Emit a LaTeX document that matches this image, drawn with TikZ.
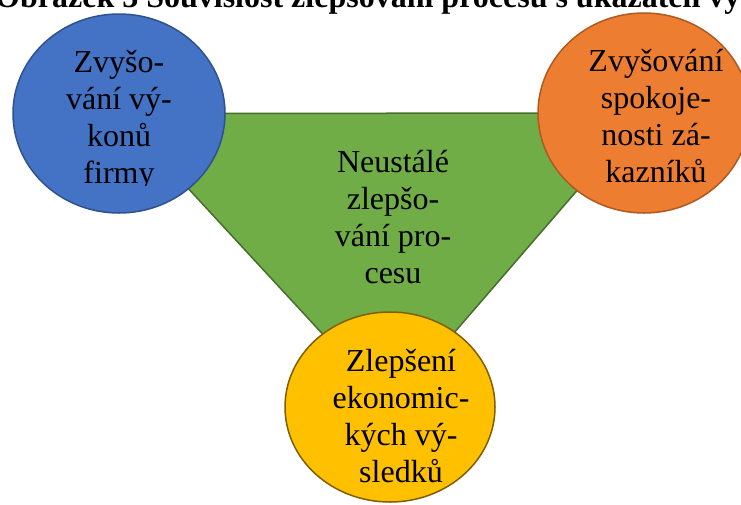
\documentclass[tikz,border=0pt]{standalone}
\usepackage{fontspec}
\setmainfont{Liberation Serif}
\usepackage{tikz}
\usepackage{xcolor}
\usetikzlibrary{shapes.geometric,backgrounds}
\definecolor{kruhmodra}{RGB}{68,114,196}
\definecolor{okrajmodra}{RGB}{47,82,143}
\definecolor{kruhoranz}{RGB}{237,125,49}
\definecolor{okrajoranz}{RGB}{174,90,33}
\definecolor{kruhzluta}{RGB}{255,192,0}
\definecolor{okrajzluta}{RGB}{127,96,0}
\definecolor{trojzelena}{RGB}{112,173,71}
\definecolor{okrajzelena}{RGB}{70,110,45}

\begin{document}
\begin{tikzpicture}[x=1pt,y=-1pt,
  kruh/.style={ellipse,line width=1.5pt,inner sep=0pt},
  popis/.style={align=center,anchor=base,font=\fontsize{32}{37}\selectfont}]
  \useasboundingbox (0,0) rectangle (741,504);
  \clip (0,0) rectangle (741,504);
  \node[font=\fontsize{32}{37}\selectfont\bfseries,anchor=base west,inner sep=0pt] (nadpis) at (-5,7) {Obrázek 3 Souvislost zlepšování procesu s ukazateli vý};
  \node[kruh,fill=kruhmodra,draw=okrajmodra,minimum width=212pt,minimum height=199pt] (vykon) at (119,113.5) {};
  \node[kruh,fill=kruhoranz,draw=okrajoranz,minimum width=212pt,minimum height=200pt] (spokojenost) at (644,113) {};
  \node[kruh,fill=kruhzluta,draw=okrajzluta,minimum width=210pt,minimum height=190pt] (vysledky) at (390,407) {};
  \begin{pgfonlayer}{background}
    \draw[line width=1.5pt,fill=trojzelena,draw=okrajzelena] (vykon.center) -- (spokojenost.center) -- (vysledky.center) -- cycle;
  \end{pgfonlayer}
  % base = posledni radek
  \node[popis] (proces) at (393,283) {Neustálé\\ zlepšo-\\ vání pro-\\ cesu};
  \begin{scope}
    \clip (0,0) rectangle (741,185);
    \node[popis] (vykon-t) at (119,183) {Zvyšo-\\ vání vý-\\ konů\\ firmy};
  \end{scope}
  \node[popis] (spokojenost-t) at (656,182) {Zvyšování\\ spokoje-\\ nosti zá-\\ kazníků};
  \node[popis] (vysledky-t) at (401,482) {Zlepšení\\ ekonomic-\\ kých vý-\\ sledků};
\end{tikzpicture}
\end{document}
